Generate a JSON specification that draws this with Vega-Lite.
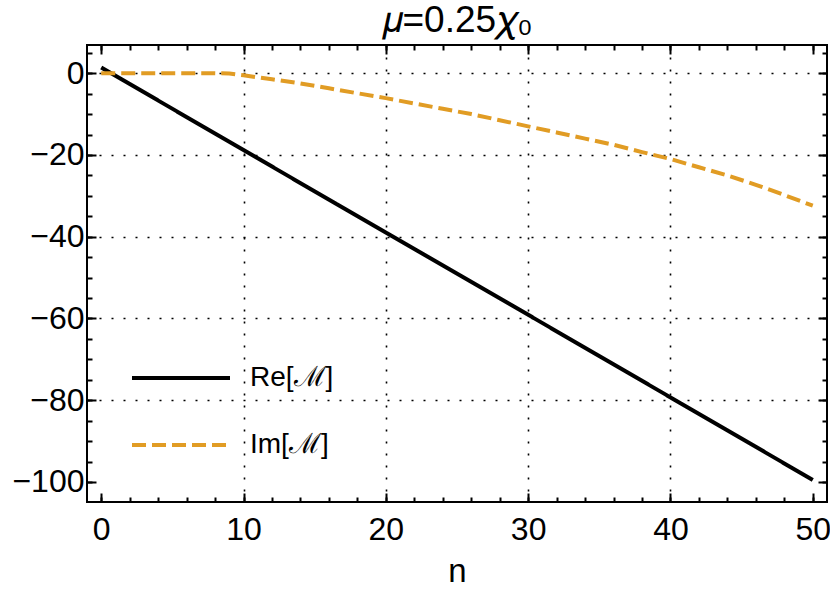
{
  "$schema": "https://vega.github.io/schema/vega-lite/v6.json",
  "width": 740,
  "height": 457,
  "autosize": "none",
  "padding": {"left": 87, "top": 45, "right": 3, "bottom": 94},
  "config": {
    "view": {"stroke": "black", "strokeWidth": 2},
    "font": "Liberation Sans",
    "axis": {"domain": false, "grid": false, "labels": false, "ticks": false, "title": null, "tickColor": "black", "tickWidth": 2, "labelColor": "black", "titleColor": "black", "labelFontSize": 32, "titleFontSize": 33}
  },
  "title": {"text": "𝜇=0.25𝜒₀", "fontSize": 37, "font": "Liberation Sans", "fontWeight": "normal", "color": "black", "anchor": "middle", "offset": 4},
  "data": {"values": [
    {"n": 0, "value": 1.4, "series": "Re[ℳ]"},
    {"n": 10, "value": -18.8, "series": "Re[ℳ]"},
    {"n": 20, "value": -39.0, "series": "Re[ℳ]"},
    {"n": 30, "value": -59.1, "series": "Re[ℳ]"},
    {"n": 40, "value": -79.3, "series": "Re[ℳ]"},
    {"n": 50, "value": -99.5, "series": "Re[ℳ]"},
    {"n": 0, "value": 0, "series": "Im[ℳ]"},
    {"n": 2, "value": 0, "series": "Im[ℳ]"},
    {"n": 4, "value": 0, "series": "Im[ℳ]"},
    {"n": 6, "value": 0, "series": "Im[ℳ]"},
    {"n": 8, "value": 0, "series": "Im[ℳ]"},
    {"n": 9, "value": -0.08, "series": "Im[ℳ]"},
    {"n": 10, "value": -0.5, "series": "Im[ℳ]"},
    {"n": 11, "value": -1.0, "series": "Im[ℳ]"},
    {"n": 12, "value": -1.5, "series": "Im[ℳ]"},
    {"n": 14, "value": -2.5, "series": "Im[ℳ]"},
    {"n": 16, "value": -3.7, "series": "Im[ℳ]"},
    {"n": 18, "value": -4.9, "series": "Im[ℳ]"},
    {"n": 20, "value": -6.1, "series": "Im[ℳ]"},
    {"n": 22, "value": -7.4, "series": "Im[ℳ]"},
    {"n": 24, "value": -8.7, "series": "Im[ℳ]"},
    {"n": 26, "value": -10.0, "series": "Im[ℳ]"},
    {"n": 28, "value": -11.5, "series": "Im[ℳ]"},
    {"n": 30, "value": -13.0, "series": "Im[ℳ]"},
    {"n": 32, "value": -14.5, "series": "Im[ℳ]"},
    {"n": 34, "value": -16.0, "series": "Im[ℳ]"},
    {"n": 36, "value": -17.5, "series": "Im[ℳ]"},
    {"n": 38, "value": -19.3, "series": "Im[ℳ]"},
    {"n": 40, "value": -21.0, "series": "Im[ℳ]"},
    {"n": 42, "value": -23.0, "series": "Im[ℳ]"},
    {"n": 44, "value": -25.0, "series": "Im[ℳ]"},
    {"n": 46, "value": -27.3, "series": "Im[ℳ]"},
    {"n": 48, "value": -29.8, "series": "Im[ℳ]"},
    {"n": 50, "value": -32.4, "series": "Im[ℳ]"}
  ]},
  "resolve": {"axis": {"x": "independent", "y": "independent"}},
  "layer": [
    {
      "mark": {"type": "point", "opacity": 0},
      "encoding": {
        "x": {"field": "n", "type": "quantitative", "scale": {"domain": [-1, 51], "nice": false, "zero": false},
              "axis": {"orient": "bottom", "values": [10, 20, 30, 40], "grid": true, "gridDash": [2, 10], "gridColor": "black", "gridWidth": 1.6, "gridOpacity": 1}},
        "y": {"field": "value", "type": "quantitative", "scale": {"domain": [-104.9, 6.9], "nice": false, "zero": false},
              "axis": {"orient": "left", "values": [0, -20, -40, -60, -80], "grid": true, "gridDash": [2, 10], "gridColor": "black", "gridWidth": 1.6, "gridOpacity": 1}}
      }
    },
    {
      "mark": {"type": "point", "opacity": 0},
      "encoding": {
        "x": {"field": "n", "type": "quantitative", "scale": {"domain": [-1, 51], "nice": false, "zero": false},
              "axis": {"orient": "bottom", "values": [0, 2, 4, 6, 8, 10, 12, 14, 16, 18, 20, 22, 24, 26, 28, 30, 32, 34, 36, 38, 40, 42, 44, 46, 48, 50], "ticks": true, "tickSize": -5}},
        "y": {"field": "value", "type": "quantitative", "scale": {"domain": [-104.9, 6.9], "nice": false, "zero": false},
              "axis": {"orient": "left", "values": [5, 0, -5, -10, -15, -20, -25, -30, -35, -40, -45, -50, -55, -60, -65, -70, -75, -80, -85, -90, -95, -100], "ticks": true, "tickSize": -5}}
      }
    },
    {
      "mark": {"type": "point", "opacity": 0},
      "encoding": {
        "x": {"field": "n", "type": "quantitative", "scale": {"domain": [-1, 51], "nice": false, "zero": false},
              "axis": {"orient": "top", "values": [0, 2, 4, 6, 8, 10, 12, 14, 16, 18, 20, 22, 24, 26, 28, 30, 32, 34, 36, 38, 40, 42, 44, 46, 48, 50], "ticks": true, "tickSize": -5}},
        "y": {"field": "value", "type": "quantitative", "scale": {"domain": [-104.9, 6.9], "nice": false, "zero": false},
              "axis": {"orient": "right", "values": [5, 0, -5, -10, -15, -20, -25, -30, -35, -40, -45, -50, -55, -60, -65, -70, -75, -80, -85, -90, -95, -100], "ticks": true, "tickSize": -5}}
      }
    },
    {
      "mark": {"type": "point", "opacity": 0},
      "encoding": {
        "x": {"field": "n", "type": "quantitative", "scale": {"domain": [-1, 51], "nice": false, "zero": false},
              "axis": {"orient": "top", "values": [0, 10, 20, 30, 40, 50], "ticks": true, "tickSize": -9}},
        "y": {"field": "value", "type": "quantitative", "scale": {"domain": [-104.9, 6.9], "nice": false, "zero": false},
              "axis": {"orient": "right", "values": [0, -20, -40, -60, -80, -100], "ticks": true, "tickSize": -9}}
      }
    },
    {
      "mark": {"type": "line", "strokeWidth": 4, "strokeCap": "butt"},
      "encoding": {
        "x": {"field": "n", "type": "quantitative", "scale": {"domain": [-1, 51], "nice": false, "zero": false},
              "axis": {"orient": "bottom", "values": [0, 10, 20, 30, 40, 50], "ticks": true, "tickSize": -9, "labels": true, "labelFontSize": 32, "labelPadding": 21, "title": "n", "titleFontSize": 33, "titleFontWeight": "normal", "titlePadding": 10}},
        "y": {"field": "value", "type": "quantitative", "scale": {"domain": [-104.9, 6.9], "nice": false, "zero": false},
              "axis": {"orient": "left", "values": [0, -20, -40, -60, -80, -100], "ticks": true, "tickSize": -9, "labels": true, "labelFontSize": 32, "labelPadding": 12}},
        "color": {"field": "series", "type": "nominal", "scale": {"domain": ["Re[ℳ]", "Im[ℳ]"], "range": ["#000000", "#E19C24"]},
                  "legend": {"orient": "none", "legendX": 43, "legendY": 282, "title": null, "symbolType": "stroke", "symbolSize": 9600, "symbolStrokeWidth": 4, "labelFontSize": 28, "labelOffset": 18, "labelColor": "black", "rowPadding": 2}},
        "strokeDash": {"field": "series", "type": "nominal", "scale": {"domain": ["Re[ℳ]", "Im[ℳ]"], "range": [[1, 0], [14, 6]]}}
      }
    }
  ]
}
